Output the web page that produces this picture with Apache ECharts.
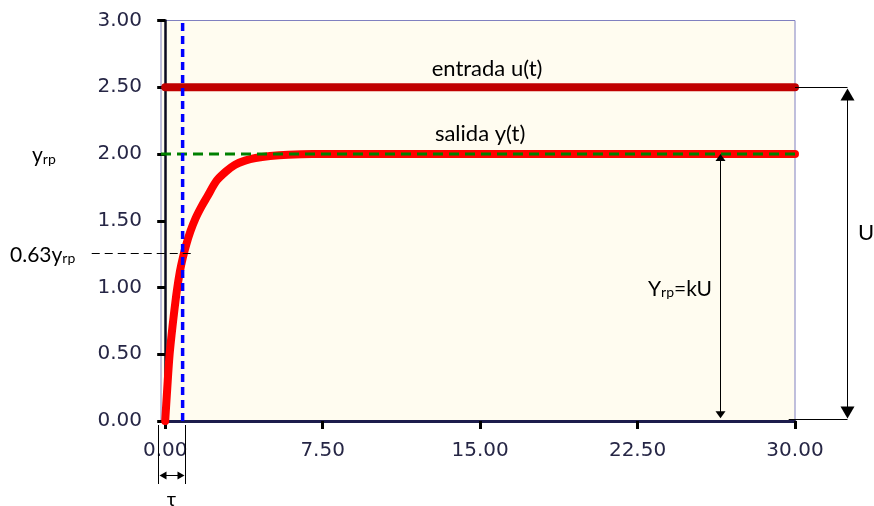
<!DOCTYPE html>
<html><head><meta charset="utf-8">
<script src="https://cdn.jsdelivr.net/npm/echarts@6/dist/echarts.min.js"></script>
<style>html,body{margin:0;padding:0;background:#fff}#c{width:874px;height:506px}</style>
</head><body><div id="c"></div>
<script>
// ---- data ----
const xTickValues = [0, 7.5, 15, 22.5, 30];
const yTickValues = [0, 0.5, 1, 1.5, 2, 2.5, 3];
const xMin = -0.2, xMax = 30;
const inputU = 2.5;          // entrada u(t)
const inputT = [0, 30];
const yrp = 2.0;             // valor de régimen permanente
const tau = 0.83;            // constante de tiempo
const y063 = 1.26;           // 0.63*yrp
const outT = [0, 0.1, 0.2, 0.3, 0.4, 0.55, 0.7, 0.85, 1.0, 1.2, 1.45, 1.74, 2.0, 2.45, 2.9, 3.33, 3.8, 4.3, 5.0, 5.85, 7, 8.5, 30];
const outY = [0, 0.25, 0.48, 0.64, 0.78, 0.97, 1.12, 1.23, 1.32, 1.42, 1.52, 1.61, 1.68, 1.8, 1.87, 1.92, 1.95, 1.97, 1.985, 1.995, 2.0, 2.0, 2.0];
const gainArrowT = 26.43;    // posición de la flecha Yrp=kU
const uArrowT = 32.48;       // posición de la flecha U

const chart = echarts.init(document.getElementById('c'));
const tickFont = {fontFamily: 'DejaVu Sans', fontSize: 20, color: '#262645'};
const txtFont = 'Lato';

const option = {
  animation: false,
  backgroundColor: '#ffffff',
  grid: {left: 161, top: 20.5, width: 634, height: 400.5, show: true,
         backgroundColor: '#fffcf0', borderColor: '#8080c0', borderWidth: 1},
  xAxis: {type: 'value', min: xMin, max: xMax,
    axisLine: {lineStyle: {color: '#1c1c4c', width: 3}},
    axisTick: {customValues: xTickValues, length: 8, lineStyle: {color: '#000', width: 3}},
    axisLabel: Object.assign({customValues: xTickValues, margin: 20,
      formatter: v => v.toFixed(2)}, tickFont),
    splitLine: {show: false}},
  yAxis: {type: 'value', min: 0, max: 3, interval: 0.5,
    axisLine: {show: true, lineStyle: {color: '#0a0a20', width: 2.5}},
    axisTick: {show: true, length: 8, lineStyle: {color: '#000', width: 3}},
    axisLabel: Object.assign({margin: 19, formatter: v => v.toFixed(2)}, tickFont),
    splitLine: {show: false}},
  series: [
    {name: 'entrada u(t)', type: 'line', symbol: 'none',
     data: inputT.map(t => [t, inputU]),
     lineStyle: {color: '#c00000', width: 8, cap: 'round'}},
    {name: 'salida y(t)', type: 'line', symbol: 'none', smooth: 0.3,
     data: outT.map((t, i) => [t, outY[i]]),
     lineStyle: {color: '#ff0000', width: 8, cap: 'round', join: 'round'}},
    {name: 'yrp', type: 'line', symbol: 'none',
     data: [[xMin, yrp], [xMax, yrp]],
     lineStyle: {color: '#008000', width: 3, type: [10, 6]}},
    {name: 'tau', type: 'line', symbol: 'none',
     data: [[tau, 0], [tau, 3]],
     lineStyle: {color: '#0000ff', width: 3.5, type: [8, 5]}}
  ]
};
chart.setOption(option);

const P = (x, y) => chart.convertToPixel({gridIndex: 0}, [x, y]);
const g = [];
function line(x1, y1, x2, y2, extra) {
  g.push(Object.assign({type: 'line', z: 100, shape: {x1, y1, x2, y2},
    style: {stroke: '#000', lineWidth: 1}}, extra || {}));
}
function head(x, y, dir, hw, len) {
  let pts;
  if (dir === 'up') pts = [[x, y], [x - hw, y + len], [x + hw, y + len]];
  if (dir === 'down') pts = [[x, y], [x - hw, y - len], [x + hw, y - len]];
  if (dir === 'left') pts = [[x, y], [x + len, y - hw], [x + len, y + hw]];
  if (dir === 'right') pts = [[x, y], [x - len, y - hw], [x - len, y + hw]];
  g.push({type: 'polygon', z: 100, shape: {points: pts}, style: {fill: '#000'}});
}
function text(x, y, t, opts) {
  g.push({type: 'text', z: 100, x, y, style: Object.assign({text: t, fontFamily: txtFont,
    fontSize: 21, fill: '#000', align: 'center', verticalAlign: 'middle'}, opts || {})});
}
const rich = {a: {fontFamily: txtFont, fontSize: 21, lineHeight: 24, verticalAlign: 'bottom', fill: '#000'},
              b: {fontFamily: txtFont, fontSize: 14, lineHeight: 8, verticalAlign: 'bottom', fill: '#000'},
              c: {fontFamily: txtFont, fontSize: 21, lineHeight: 24, verticalAlign: 'bottom', fill: '#000'}};

// series labels
const pIn = P(15.33, 2.64); text(pIn[0], pIn[1], 'entrada u(t)', {fontSize: 22});
const pOut = P(15.0, 2.15); text(pOut[0], pOut[1], 'salida y(t)', {fontSize: 22});

// 0.63 yrp dashed guide
const p63a = P(-3.5, y063), p63b = P(1.28, y063);
const y63px = Math.round(p63a[1]) + 0.5;
line(p63a[0], y63px, p63b[0], y63px, {style: {stroke: '#000', lineWidth: 1.2, lineDash: [8, 5]}});
text(10, p63a[1] + 1, '{a|0.63y}{b|rp}', {align: 'left', rich});
const pY = P(0, yrp);
text(32, pY[1], '{a|y}{b|rp}', {align: 'left', rich});

// Yrp = kU arrow
const ga = P(gainArrowT, yrp), gb = P(gainArrowT, 0.02);
const gx = Math.round(ga[0]) + 0.5;
line(gx, ga[1] + 2, gx, gb[1] - 2);
head(gx, ga[1], 'up', 5, 7);
head(gx, gb[1], 'down', 5, 7);
text(ga[0] - 8, P(0, 1.0)[1], '{a|Y}{b|rp}{c|=kU}', {align: 'right', rich});

// U arrow
const ua = P(uArrowT, inputU), ub = P(uArrowT, 0.015);
const r30a = P(30, inputU), r30b = P(29.7, 0.015);
const ux = Math.round(ua[0]) + 0.5;
const uy1 = Math.round(ua[1]) + 0.5, uy2 = Math.round(ub[1]) + 0.5;
line(r30a[0], uy1, ux, uy1);
line(r30b[0], uy2, ux, uy2);
line(ux, uy1 + 4, ux, uy2 - 4);
head(ux, uy1 + 1, 'up', 7, 12);
head(ux, uy2 - 1, 'down', 7, 12);
text(866, P(0, 1.41)[1], 'U', {fontSize: 22});

// tau bracket
const t0 = P(-0.35, 0), t1 = P(tau + 0.12, 0);
const tx0 = Math.round(t0[0]) + 0.5, tx1 = Math.round(t1[0]) + 0.5;
line(tx0, 425, tx0, 484);
line(tx1, 425, tx1, 484);
line(tx0 + 4, 475.5, tx1 - 4, 475.5);
head(tx0 + 1, 475.5, 'left', 4, 7);
head(tx1 - 1, 475.5, 'right', 4, 7);
text((t0[0] + t1[0]) / 2, 500, 'τ', {fontSize: 20});

chart.setOption({graphic: {elements: g}});
</script></body></html>
